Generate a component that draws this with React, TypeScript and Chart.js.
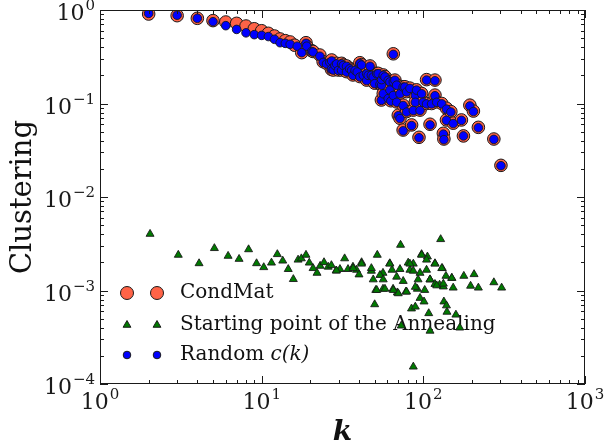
import React, { useEffect, useRef } from 'react';
import { Chart, registerables } from 'chart.js';

Chart.register(...registerables);

const condMatK = [2, 3, 4, 5, 6, 7, 8, 9, 10, 11, 12, 13, 14, 15, 16,
  17.7, 18.8, 19, 20.4, 20.8, 22.9, 24, 25.2, 26.4, 27.1,
  27, 27.7, 28.4, 29.1, 29.8, 31.2, 31.2, 32, 33.5, 33.5,
  35, 36, 36.7, 37.8, 39, 40.5, 40.5, 41.5, 42.5, 44.6,
  44.6, 45.6, 46.8, 47.7, 49, 50, 51.5, 52.6, 53.9, 55.2,
  55.2, 55, 56.5, 56.5, 57.9, 60.6, 60.6, 62.1, 62.1, 63,
  65.2, 65.2, 65.2, 66.7, 68.4, 68.4, 70, 71.7, 71.7, 75,
  75, 75, 76.9, 78.8, 78.8, 82.6, 84.6, 86.7, 89.2, 89.2,
  90.8, 94, 95.4, 97.6, 99.6, 104.7, 104.7, 110, 112.5, 118,
  118, 121, 130, 133, 134, 139, 139, 148, 153, 172,
  177, 194, 204, 219, 273, 302];
const condMatC = [0.906, 0.87, 0.815, 0.77, 0.744, 0.72, 0.674, 0.63, 0.6, 0.563, 0.527, 0.49, 0.47, 0.455, 0.42,
  0.35, 0.447, 0.41, 0.367, 0.36, 0.33, 0.28, 0.269, 0.28, 0.292,
  0.232, 0.228, 0.258, 0.269, 0.228, 0.269, 0.228, 0.258, 0.252, 0.219,
  0.238, 0.228, 0.202, 0.228, 0.219, 0.273, 0.194, 0.26, 0.202, 0.21,
  0.178, 0.202, 0.252, 0.202, 0.194, 0.165, 0.21, 0.21, 0.162, 0.158,
  0.181, 0.109, 0.202, 0.128, 0.194, 0.178, 0.114, 0.171, 0.14, 0.107,
  0.34, 0.171, 0.123, 0.178, 0.158, 0.104, 0.075, 0.128, 0.0695, 0.151,
  0.096, 0.052, 0.151, 0.134, 0.082, 0.146, 0.059, 0.085, 0.123, 0.104,
  0.14, 0.0435, 0.085, 0.128, 0.104, 0.18, 0.1, 0.06, 0.1, 0.178,
  0.123, 0.104, 0.1, 0.048, 0.0417, 0.089, 0.0667, 0.082, 0.0616, 0.0667,
  0.045, 0.096, 0.083, 0.0556, 0.0417, 0.0218];

const randomK = [2, 3, 4, 5, 6, 7, 8, 9, 10, 11, 12, 13, 14, 15, 16.6,
  17.7, 18.8, 19, 20.4, 20.8, 22.9, 24, 25.2, 26.4, 27.1,
  27, 27.7, 28.4, 29.1, 29.8, 31.2, 31.2, 32, 33.5, 33.5,
  35, 36, 36.7, 37.8, 39, 40.5, 40.5, 41.5, 42.5, 44.6,
  44.6, 45.6, 46.8, 47.7, 49, 50, 51.5, 52.6, 53.9, 55.2,
  55.2, 55, 56.5, 56.5, 57.9, 60.6, 60.6, 62.1, 62.1, 63,
  65.2, 65.2, 65.2, 66.7, 68.4, 68.4, 70, 71.7, 71.7, 75,
  75, 75, 76.9, 78.8, 78.8, 82.6, 84.6, 86.7, 89.2, 89.2,
  90.8, 94, 95.4, 97.6, 99.6, 104.7, 104.7, 110, 112.5, 118,
  118, 121, 130, 133, 134, 139, 139, 148, 153, 172,
  177, 194, 204, 219, 273, 302];
const randomC = [0.92, 0.88, 0.815, 0.75, 0.68, 0.62, 0.57, 0.545, 0.535, 0.52, 0.486, 0.447, 0.44, 0.43, 0.41,
  0.35, 0.44, 0.41, 0.36, 0.355, 0.32, 0.275, 0.265, 0.275, 0.285,
  0.232, 0.228, 0.255, 0.265, 0.226, 0.265, 0.226, 0.255, 0.25, 0.217,
  0.235, 0.226, 0.2, 0.226, 0.217, 0.268, 0.192, 0.258, 0.2, 0.208,
  0.176, 0.2, 0.25, 0.2, 0.192, 0.163, 0.208, 0.208, 0.16, 0.157,
  0.18, 0.108, 0.2, 0.127, 0.192, 0.177, 0.113, 0.17, 0.139, 0.106,
  0.335, 0.17, 0.122, 0.177, 0.157, 0.103, 0.074, 0.127, 0.069, 0.15,
  0.095, 0.051, 0.15, 0.133, 0.081, 0.145, 0.058, 0.084, 0.122, 0.103,
  0.139, 0.043, 0.084, 0.127, 0.103, 0.178, 0.099, 0.059, 0.099, 0.175,
  0.121, 0.103, 0.099, 0.047, 0.041, 0.087, 0.066, 0.081, 0.061, 0.066,
  0.045, 0.094, 0.082, 0.055, 0.0413, 0.0216];

const annealK = [2.04, 3.05, 4.1, 5.1, 6.2, 7.25, 8.3, 9.3, 10.3, 11.5, 12.5, 13.5, 14.6, 15.7, 16.8,
  17.6, 18.8, 19.7, 20.8, 22, 23, 24.3, 25.8, 27, 28.9,
  30.5, 32.6, 34.2, 36.7, 38.6, 40, 41.5, 47.7, 49, 50.8,
  50, 51.9, 56.3, 56.3, 62, 64, 65, 69, 71.7, 72.3,
  73, 78, 80.6, 82.6, 84.5, 86.7, 86.7, 89.2, 91.8, 95.4,
  95.4, 97.5, 101, 104.7, 106, 108, 110, 110, 118, 118,
  126, 128, 131, 133, 134, 138, 139, 140, 150, 153,
  159, 168, 178, 196, 206, 219, 273, 305,
  29, 36.8, 41.5, 47.7, 53.9, 62, 51.5, 57.9, 65.2, 70,
  78.8, 82.6, 86.7, 97.6, 104.7, 118, 130, 150, 92.8, 110,
  75.1, 56.5, 68.4, 89.2, 102, 121, 133];
const annealC = [0.00402, 0.0024, 0.00195, 0.00283, 0.00234, 0.00217, 0.00275, 0.00195, 0.00177, 0.00198, 0.00244, 0.00208, 0.00169, 0.00132, 0.00213,
  0.0022, 0.0024, 0.00198, 0.00173, 0.00154, 0.00183, 0.002, 0.00179, 0.00186, 0.00163,
  0.00169, 0.0022, 0.00169, 0.00179, 0.00166, 0.00148, 0.002, 0.00162, 0.00131, 0.00101,
  0.00071, 0.0024, 0.00154, 0.00104, 0.00195, 0.00166, 0.00104, 0.00095, 0.00169, 0.00307,
  0.00042, 0.00097, 0.00198, 0.00166, 0.00064, 0.00193, 0.000153, 0.00067, 0.00104, 0.00154,
  0.00083, 0.00244, 0.00076, 0.00166, 0.0023, 0.00057, 0.00131, 0.00037, 0.00195, 0.00117,
  0.00115, 0.00353, 0.00173, 0.0011, 0.00076, 0.00143, 0.00069, 0.00059, 0.00136, 0.00107,
  0.00055, 0.0004, 0.00143, 0.00112, 0.00149, 0.00107, 0.00122, 0.00107,
  0.00163, 0.00173, 0.00193, 0.00173, 0.00146, 0.00193, 0.00101, 0.00104, 0.00101, 0.00093,
  0.00097, 0.00193, 0.00162, 0.0024, 0.00213, 0.00193, 0.00173, 0.00136, 0.00131, 0.00131,
  0.00126, 0.00131, 0.0014, 0.00109, 0.00101, 0.00113, 0.00118];

const xTickValues = [1, 10, 100, 1000];
const xTickExponents = ['0', '1', '2', '3'];
const yTickValues = [1e-4, 1e-3, 1e-2, 1e-1, 1];
const yTickExponents = ['−4', '−3', '−2', '−1', '0'];
const tickBase = '10';
const minorMultipliers = [2, 3, 4, 5, 6, 7, 8, 9];

const seriesNames = ['CondMat', 'Starting point of the Annealing', 'Random '];
const randomItalic = 'c(k)';
const xTitle = 'k';
const yTitle = 'Clustering';

const FONT = 'DejaVu Serif';
const ORANGE = '#FF6347';
const GREEN = '#007a00';
const BLUE = '#0000FF';
const EDGE = '#1a1a1a';

const toPoints = (ks: number[], cs: number[]) => ks.map((k, i) => ({ x: k, y: cs[i] }));

const framePlugin = {
  id: 'frameTicks',
  afterDatasetsDraw(chart: any) {
    const { ctx, chartArea: a, scales } = chart;
    const xs = scales.x;
    const ys = scales.y;
    ctx.save();
    ctx.strokeStyle = '#1a1a1a';
    ctx.lineWidth = 1;
    const line = (x1: number, y1: number, x2: number, y2: number) => {
      ctx.beginPath();
      ctx.moveTo(x1, y1);
      ctx.lineTo(x2, y2);
      ctx.stroke();
    };
    const tickX = (v: number, len: number) => {
      const px = Math.round(xs.getPixelForValue(v)) + 0.5;
      line(px, a.bottom, px, a.bottom - len);
      line(px, a.top, px, a.top + len);
    };
    const tickY = (v: number, len: number) => {
      const py = Math.round(ys.getPixelForValue(v)) + 0.5;
      line(a.left, py, a.left + len, py);
      line(a.right, py, a.right - len, py);
    };
    xTickValues.forEach((d, i) => {
      tickX(d, 8);
      if (i < xTickValues.length - 1) minorMultipliers.forEach((m) => tickX(d * m, 4));
    });
    yTickValues.forEach((d, i) => {
      tickY(d, 8);
      if (i < yTickValues.length - 1) minorMultipliers.forEach((m) => tickY(d * m, 4));
    });
    ctx.strokeRect(Math.round(a.left) + 0.5, Math.round(a.top) + 0.5,
      Math.round(a.right - a.left) - 1, Math.round(a.bottom - a.top) - 1);

    // tick labels with real superscripts
    const baseFont = `22px "${FONT}"`;
    const expFont = `15px "${FONT}"`;
    ctx.fillStyle = '#1a1a1a';
    ctx.textBaseline = 'alphabetic';
    ctx.textAlign = 'left';
    const measure = (t: string, f: string) => { ctx.font = f; return ctx.measureText(t).width; };
    const drawLabel = (x: number, baseline: number, exp: string) => {
      ctx.font = baseFont;
      ctx.fillText(tickBase, x, baseline);
      const w = ctx.measureText(tickBase).width;
      ctx.font = expFont;
      ctx.fillText(exp, x + w + 1, baseline - 10);
    };
    const wBase = measure(tickBase, baseFont);
    xTickValues.forEach((v, i) => {
      const exp = xTickExponents[i];
      const total = wBase + 1 + measure(exp, expFont);
      const px = xs.getPixelForValue(v);
      drawLabel(px - total / 2, a.bottom + 25, exp);
    });
    yTickValues.forEach((v, i) => {
      const exp = yTickExponents[i];
      const total = wBase + 1 + measure(exp, expFont);
      const py = ys.getPixelForValue(v);
      drawLabel(a.left - 5 - total, py + 10, exp);
    });
    ctx.restore();
  },
};

const legendPlugin = {
  id: 'customLegend',
  beforeDatasetsDraw(chart: any) {
    const { ctx, chartArea: a } = chart;
    const rows = [293, 325, 355];
    const m1 = a.left + 27;
    const m2 = a.left + 57;
    const tx = a.left + 80;
    ctx.save();
    ctx.lineWidth = 1;
    ctx.strokeStyle = EDGE;
    const circle = (x: number, y: number, r: number, fill: string) => {
      ctx.beginPath();
      ctx.arc(x, y, r, 0, Math.PI * 2);
      ctx.fillStyle = fill;
      ctx.fill();
      ctx.stroke();
    };
    const tri = (x: number, y: number, r: number, fill: string) => {
      const s = Math.sin(Math.PI / 3) * r;
      ctx.beginPath();
      ctx.moveTo(x, y - r);
      ctx.lineTo(x + s, y + r / 2);
      ctx.lineTo(x - s, y + r / 2);
      ctx.closePath();
      ctx.fillStyle = fill;
      ctx.fill();
      ctx.stroke();
    };
    circle(m1, rows[0], 6.5, ORANGE);
    circle(m2, rows[0], 6.5, ORANGE);
    tri(m1, rows[1], 4.5, GREEN);
    tri(m2, rows[1], 4.5, GREEN);
    circle(m1, rows[2], 3.8, BLUE);
    circle(m2, rows[2], 3.8, BLUE);
    ctx.fillStyle = '#111';
    ctx.textBaseline = 'middle';
    ctx.textAlign = 'left';
    ctx.font = `20px "${FONT}"`;
    ctx.fillText(seriesNames[0], tx, rows[0]);
    ctx.fillText(seriesNames[1], tx, rows[1]);
    ctx.fillText(seriesNames[2], tx, rows[2]);
    const w = ctx.measureText(seriesNames[2]).width;
    ctx.font = `italic 20px "${FONT}"`;
    ctx.fillText(randomItalic, tx + w, rows[2]);
    ctx.restore();
  },
};

export default function App() {
  const ref = useRef<HTMLCanvasElement | null>(null);
  useEffect(() => {
    if (!ref.current) return;
    const chart = new Chart(ref.current, {
      type: 'scatter',
      data: {
        datasets: [
          {
            label: 'Random c(k)',
            data: toPoints(randomK, randomC),
            pointStyle: 'circle',
            pointRadius: 4.3,
            backgroundColor: BLUE,
            borderColor: EDGE,
            borderWidth: 0.9,
            clip: 0,
          } as any,
          {
            label: seriesNames[1],
            data: toPoints(annealK, annealC),
            pointStyle: 'triangle',
            pointRadius: 4.6,
            backgroundColor: GREEN,
            borderColor: EDGE,
            borderWidth: 0.9,
            clip: 0,
          },
          {
            label: seriesNames[0],
            data: toPoints(condMatK, condMatC),
            pointStyle: 'circle',
            pointRadius: 6.3,
            backgroundColor: ORANGE,
            borderColor: EDGE,
            borderWidth: 1,
            clip: 0,
          },
        ],
      },
      options: {
        responsive: false,
        animation: false,
        devicePixelRatio: 1,
        layout: { padding: { top: 10, right: 25, left: 0, bottom: 0 } },
        plugins: { legend: { display: false }, tooltip: { enabled: false } },
        scales: {
          x: {
            type: 'logarithmic',
            min: 1,
            max: 1000,
            afterBuildTicks: (s: any) => { s.ticks = xTickValues.map((v) => ({ value: v })); },
            afterFit: (s: any) => { s.height = 63; s.paddingLeft = 0; s.paddingRight = 0; },
            ticks: { display: false },
            grid: { display: false, drawTicks: false },
            border: { display: false },
            title: {
              display: true,
              text: xTitle,
              color: '#111',
              font: { family: FONT, size: 28, style: 'italic', weight: 'bold', lineHeight: 1 },
              padding: { top: 0, bottom: 0 },
            },
          },
          y: {
            type: 'logarithmic',
            min: 1e-4,
            max: 1,
            afterBuildTicks: (s: any) => { s.ticks = yTickValues.map((v) => ({ value: v })); },
            afterFit: (s: any) => { s.width = 100; s.paddingTop = 0; s.paddingBottom = 0; },
            ticks: { display: false },
            grid: { display: false, drawTicks: false },
            border: { display: false },
            title: {
              display: true,
              text: yTitle,
              color: '#111',
              font: { family: FONT, size: 29 },
              padding: { top: 6, bottom: 0 },
            },
          },
        },
      },
      plugins: [framePlugin, legendPlugin],
    });
    return () => chart.destroy();
  }, []);
  return (
    <div style={{ position: 'absolute', left: 0, top: 0, width: 610, height: 447, background: '#fff' }}>
      <canvas ref={ref} width={610} height={447} />
    </div>
  );
}
